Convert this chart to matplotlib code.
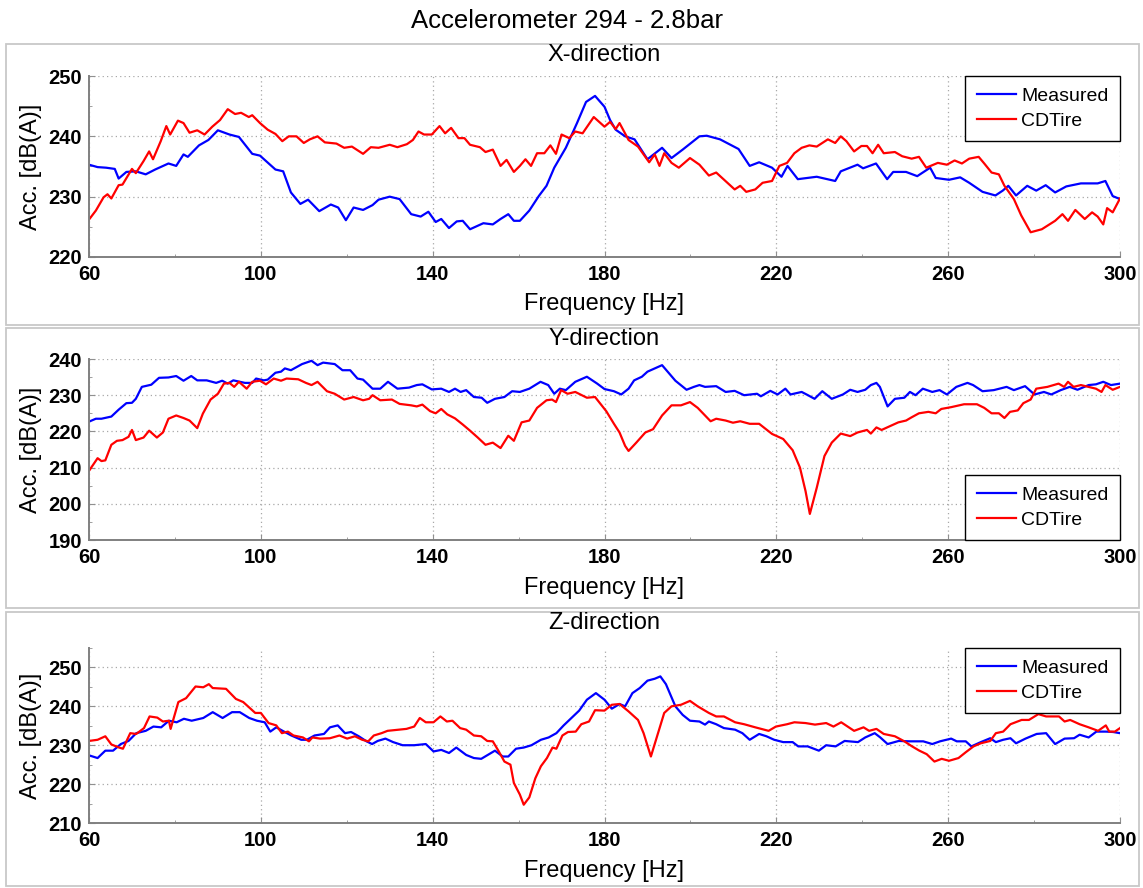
import numpy as np
import matplotlib
matplotlib.use("Agg")
import matplotlib.pyplot as plt
from matplotlib.patches import Rectangle
from matplotlib.ticker import MultipleLocator

plt.rcParams['font.family'] = ['Liberation Sans', 'DejaVu Sans']

# --- data: (frequency [Hz], level [dB(A)]) ---
x_measured = [
    (60, 235.3), (62, 234.9), (64, 234.8), (66, 234.6), (66.9, 233.0), (68.7, 234.1), (70.9, 234.2),
    (73.2, 233.7), (75.4, 234.5), (78.5, 235.5), (80.3, 235.1), (82, 237.0), (83, 236.6), (85.6, 238.5),
    (87.8, 239.4), (90, 241.0), (92.7, 240.3), (94.9, 239.9), (98, 237.1), (99.8, 236.8), (103.4, 234.5),
    (105.2, 234.2), (107, 230.7), (109.2, 228.8), (111, 229.5), (113.6, 227.6), (116.3, 228.7), (118, 228.2),
    (119.8, 226.1), (121.6, 228.2), (123.8, 227.8), (126, 228.6), (127.4, 229.5), (130, 230.0), (132.3, 229.6),
    (135, 227.1), (137.2, 226.7), (139, 227.5), (140.7, 225.8), (142, 226.3), (143.8, 224.8), (145.6, 225.9),
    (147, 226.0), (148.7, 224.6), (151.8, 225.6), (154, 225.4), (155.8, 226.3), (157.6, 227.1), (158.9, 226.0),
    (160.3, 226.0), (162.5, 227.7), (164.7, 230.1), (166.5, 231.8), (168.3, 234.8), (171, 238.1), (173.6, 242.2),
    (175.7, 245.7), (177.8, 246.7), (180, 244.9), (181.3, 242.7), (182.6, 241.1), (184.8, 240.0), (187, 239.5),
    (190, 236.2), (193.4, 238.1), (195.6, 236.4), (198.2, 237.8), (202.1, 240.0), (203.8, 240.1), (206.9, 239.5),
    (211.2, 237.9), (213.8, 235.1), (216, 235.7), (219, 234.8), (221.2, 233.3), (222.6, 235.1), (225, 232.9),
    (229.4, 233.3), (233.7, 232.6), (235, 234.2), (238.9, 235.3), (240.2, 234.7), (243.2, 235.5), (245.8, 232.9),
    (247.2, 234.1), (250.2, 234.1), (252.8, 233.4), (255.8, 234.8), (257.1, 233.1), (260.2, 232.8), (262.8, 233.2),
    (264.9, 232.3), (268, 230.8), (271, 230.2), (272.7, 231.0), (274, 231.8), (275.8, 230.2), (278.4, 231.8),
    (280.5, 231.0), (282.7, 231.9), (284.9, 230.7), (287.5, 231.7), (290.9, 232.2), (294.8, 232.2), (296.6, 232.6),
    (298.3, 230.1), (300, 229.6),
]
x_cdtire = [
    (60, 226.2), (61.6, 227.7), (63.4, 229.9), (64.3, 230.4), (65.2, 229.7), (66.9, 231.9), (67.8, 232.0),
    (70, 234.6), (70.9, 233.9), (72.7, 235.9), (74, 237.5), (74.9, 236.2), (76.7, 239.2), (78, 241.7),
    (78.9, 240.3), (80.7, 242.6), (82, 242.2), (83.4, 240.6), (85.2, 241.0), (86.9, 240.3), (88.7, 241.6),
    (90.5, 242.7), (92.3, 244.5), (94, 243.7), (95.4, 243.9), (97.2, 243.2), (98, 243.5), (99.8, 242.2),
    (101.6, 241.1), (103.4, 240.4), (105, 239.2), (106.5, 240.0), (108.3, 240.0), (110, 238.9), (111.4, 239.5),
    (113.2, 240.0), (114.9, 239.0), (117.6, 238.8), (119.4, 238.1), (121.2, 238.3), (123.8, 237.1), (125.6, 238.2),
    (127.4, 238.1), (130, 238.6), (131.8, 238.2), (134, 238.7), (135.4, 239.4), (136.7, 240.8), (138, 240.3),
    (139.8, 240.3), (141.6, 241.7), (142.9, 240.5), (144.3, 241.4), (146, 239.7), (147.4, 239.7), (148.7, 238.6),
    (151, 238.2), (152.3, 237.4), (154, 237.8), (155.8, 235.1), (157.2, 236.1), (158.9, 234.1), (160.3, 235.1),
    (161.6, 236.2), (162.9, 235.1), (164.3, 237.2), (166, 237.2), (167.4, 238.5), (168.7, 237.1), (170, 240.3),
    (171.8, 239.7), (173.2, 240.8), (174.9, 240.5), (177.5, 243.2), (180, 241.6), (181.3, 242.4), (182.6, 241.2),
    (183.5, 242.2), (185.6, 239.4), (187.8, 238.3), (190.4, 235.7), (191.7, 237.0), (192.8, 235.1), (193.9, 237.2),
    (195.6, 235.6), (197.3, 234.8), (199.9, 236.4), (202.1, 235.3), (204.3, 233.5), (206, 234.0), (207.7, 232.9),
    (210.3, 231.2), (211.6, 231.8), (213, 230.8), (215.1, 231.2), (216.8, 232.3), (219, 232.6), (220.7, 235.1),
    (222.5, 235.6), (224.2, 237.2), (225.9, 238.1), (227.7, 238.5), (229.4, 238.3), (232, 239.5), (233.7, 238.9),
    (235, 240.0), (236.3, 239.2), (238.1, 237.5), (239.8, 238.4), (241.1, 238.4), (242.4, 237.2), (243.7, 238.6),
    (245, 237.2), (247.6, 237.4), (249.3, 236.7), (251.5, 236.3), (253.2, 236.6), (254.9, 234.8), (257.6, 235.6),
    (259.7, 235.3), (261.5, 236.0), (263.2, 235.5), (264.9, 236.3), (267.1, 236.6), (268.4, 235.5), (270.1, 234.0),
    (271.8, 233.7), (273.1, 231.8), (275.3, 229.6), (277, 226.9), (279.2, 224.1), (281.8, 224.6), (284.9, 226.0),
    (286.6, 227.1), (287.9, 226.0), (289.6, 227.8), (291.8, 226.3), (293.5, 227.4), (294.8, 226.7), (296.1, 225.4),
    (297, 228.1), (298.3, 227.4), (300, 229.7),
]
y_measured = [
    (60, 222.7), (61.6, 223.5), (62.9, 223.5), (65.2, 224.1), (66.9, 226.0), (68.7, 227.8), (70, 227.9),
    (70.9, 229.0), (72.3, 232.3), (74.5, 232.9), (76.3, 234.8), (78.5, 234.9), (80.3, 235.3), (82, 234.0),
    (83.8, 235.3), (85.2, 234.1), (87.4, 234.1), (89.6, 233.4), (91, 234.0), (92.3, 233.2), (93.6, 234.1),
    (96.3, 233.4), (98, 233.4), (98.9, 234.6), (100.7, 234.1), (101.6, 234.3), (103.4, 236.2), (104.7, 236.5),
    (105.6, 237.4), (107, 236.9), (109.6, 238.6), (111.8, 239.5), (113.2, 238.3), (114.5, 239.0), (117.2, 238.6),
    (119, 236.9), (120.8, 236.9), (122.5, 234.6), (123.8, 234.3), (126, 231.8), (127.8, 231.8), (129.6, 233.7),
    (131.8, 231.8), (134.5, 232.1), (136.3, 232.8), (137.6, 233.0), (139.8, 231.6), (142, 231.8), (143.8, 230.9),
    (145.2, 231.8), (146.5, 230.9), (147.8, 231.4), (149.6, 229.5), (151.4, 229.3), (152.7, 227.9), (154.5, 229.0),
    (156.7, 229.5), (158.5, 231.1), (160.3, 230.9), (162.5, 231.8), (165.1, 233.7), (166.9, 232.8), (168.3, 230.4),
    (169.6, 231.8), (171, 231.4), (173.2, 233.7), (175.9, 235.1), (178.3, 233.2), (180, 231.7), (182.2, 231.1),
    (183.9, 230.2), (185.6, 231.8), (186.9, 234.1), (188.7, 235.1), (190, 236.5), (191.7, 237.4), (193.4, 238.3),
    (194.7, 236.5), (196.5, 234.0), (199.1, 231.5), (200.8, 232.3), (202.1, 232.8), (203.4, 232.3), (206, 232.5),
    (208.2, 230.9), (210.3, 231.2), (212.5, 230.0), (215.5, 230.4), (216.4, 229.7), (218.6, 231.2), (220.3, 230.2),
    (222.1, 231.8), (223.3, 230.2), (225.9, 230.9), (227.2, 230.1), (228.9, 229.0), (230.7, 231.1), (232.9, 229.0),
    (235.5, 230.2), (237.2, 231.5), (238.9, 230.9), (240.7, 231.5), (242, 232.8), (243.3, 233.4), (244.1, 232.3),
    (245.9, 226.9), (247.6, 229.0), (249.8, 229.3), (251.1, 230.9), (252.4, 230.0), (254.1, 231.8), (256.3, 230.9),
    (258, 231.4), (259.7, 230.2), (261.9, 232.3), (264.5, 233.4), (265.8, 232.8), (268, 231.1), (270.6, 231.4),
    (273.6, 232.3), (275.3, 231.4), (277.9, 232.5), (280.1, 230.2), (282.3, 230.9), (284, 230.2), (286.2, 231.4),
    (288.3, 232.3), (290.1, 231.5), (292.7, 232.8), (294.4, 233.0), (296.1, 233.7), (297.9, 232.8), (300, 233.2),
]
y_cdtire = [
    (60, 209.1), (62, 212.6), (62.9, 211.8), (63.8, 212.0), (65.2, 216.3), (66.5, 217.4), (67.8, 217.6),
    (69.2, 218.5), (70, 220.4), (70.9, 217.6), (72.7, 218.3), (74, 220.2), (75.8, 218.3), (77.2, 219.7),
    (78.5, 223.5), (80.3, 224.4), (82, 223.7), (83.4, 223.0), (85.2, 220.9), (86.5, 224.9), (88.3, 228.8),
    (90, 230.4), (91.4, 233.2), (92.7, 233.4), (93.8, 232.3), (94.9, 233.7), (96.7, 231.8), (98, 233.7),
    (99.8, 234.0), (101.2, 233.0), (103, 234.6), (104.7, 234.0), (106, 234.6), (108.7, 234.4), (110.5, 233.4),
    (111.8, 232.8), (113.2, 233.7), (115.4, 231.1), (117.2, 230.4), (119.4, 228.8), (121.6, 229.5), (123.8, 228.6),
    (125.2, 229.0), (126, 230.0), (127.8, 228.6), (130.5, 228.8), (132.3, 227.6), (135, 227.2), (136.3, 226.9),
    (137.6, 227.4), (139.4, 225.6), (140.7, 225.0), (142, 226.2), (143.4, 224.7), (145.2, 223.6), (147, 221.9),
    (148.7, 220.2), (150.5, 218.3), (152.3, 216.3), (154, 216.9), (155.8, 215.4), (157.6, 218.8), (158.9, 217.4),
    (160.7, 222.5), (162.5, 223.0), (164.3, 226.5), (166.5, 228.6), (167.8, 228.8), (168.7, 228.1), (169.9, 231.4),
    (171.4, 230.4), (173.2, 230.9), (175.9, 229.3), (177.8, 229.5), (180.4, 225.6), (182.2, 222.1), (183.5, 219.7),
    (184.8, 216.0), (185.6, 214.6), (187.4, 216.9), (189.5, 219.7), (191.3, 220.6), (193.4, 224.4), (195.6, 227.2),
    (197.8, 227.2), (199.9, 228.1), (201.7, 226.5), (204.7, 222.8), (206, 223.5), (208.2, 223.0), (209.9, 222.4),
    (211.6, 222.8), (213.8, 222.1), (216, 222.1), (219, 219.3), (221.6, 217.9), (223.8, 214.8), (225.5, 210.0),
    (226.8, 203.5), (227.8, 197.2), (229.4, 204.4), (231.2, 213.2), (232.9, 216.9), (235, 219.4), (237.2, 218.7),
    (238.9, 219.7), (241.1, 220.4), (242, 219.4), (243.3, 221.1), (244.5, 220.4), (246.7, 221.6), (248.4, 222.5),
    (250.2, 223.0), (251.5, 223.9), (253.2, 225.0), (255.4, 225.4), (257.1, 225.0), (258.4, 226.2), (260.7, 226.7),
    (263.7, 227.5), (266.7, 227.5), (268.4, 226.5), (270.1, 225.0), (271.8, 225.0), (273.1, 223.7), (274.4, 225.4),
    (276.2, 225.8), (277.5, 227.8), (279.2, 228.8), (280.5, 231.8), (283.1, 232.3), (285.7, 233.2), (287, 232.3),
    (287.9, 233.7), (289.2, 232.3), (290.9, 232.8), (292.7, 232.3), (294.4, 231.8), (295.7, 230.9), (296.6, 232.8),
    (298.3, 231.5), (300, 232.3),
]
z_measured = [
    (60, 227.4), (62, 226.7), (63.8, 228.6), (65.6, 228.6), (67.4, 230.3), (69.2, 231.1), (71, 233.1),
    (73.2, 233.7), (75, 234.8), (76.8, 234.6), (78.6, 236.3), (80.4, 235.9), (82.1, 236.8), (83.9, 236.3),
    (86.6, 237.0), (88.8, 238.5), (91.1, 237.0), (93.3, 238.5), (95.1, 238.5), (97.3, 237.0), (99.1, 236.3),
    (100.9, 235.9), (102.2, 233.5), (103.6, 234.6), (105.4, 233.5), (107.1, 232.5), (109.4, 231.4), (110.7, 231.4),
    (112.5, 232.5), (114.7, 232.9), (116.1, 234.6), (117.9, 235.1), (119.6, 233.1), (121, 233.4), (122.8, 232.3),
    (124.6, 231.0), (125.9, 230.3), (127.2, 231.1), (129, 231.7), (130.8, 230.8), (133, 230.0), (135.7, 230.0),
    (138.4, 230.3), (140.2, 228.4), (142, 228.8), (143.8, 228.0), (145.5, 229.4), (147.8, 227.5), (149.6, 226.7),
    (151.3, 226.5), (153.1, 227.7), (154.5, 228.6), (156.3, 227.1), (157.6, 227.1), (159.4, 229.1), (161.2, 229.4),
    (163, 230.0), (165.2, 231.4), (167, 232.0), (168.8, 233.1), (170.5, 235.1), (172.3, 237.0), (174.1, 238.9),
    (175.9, 241.7), (178, 243.4), (180, 241.7), (181.7, 239.4), (183.5, 240.6), (184.8, 240.0), (186.5, 243.4),
    (188.2, 244.7), (190, 246.6), (191.7, 247.1), (193, 247.7), (194.3, 245.7), (196.5, 240.0), (198.2, 237.8),
    (199.9, 236.3), (202.1, 236.1), (203.4, 235.3), (204.3, 236.1), (206, 235.4), (207.8, 234.4), (210.4, 234.0),
    (212.1, 233.1), (213.8, 231.4), (216, 232.9), (217.7, 232.3), (219.5, 231.4), (221.6, 230.8), (223.8, 230.8),
    (225.1, 229.7), (227.3, 229.7), (229.9, 228.6), (231.6, 230.0), (233.8, 229.7), (235.9, 231.1), (239, 230.8),
    (240.7, 232.0), (242.9, 233.1), (244.2, 232.0), (245.9, 230.3), (248.5, 231.1), (251.1, 231.0), (254.2, 231.0),
    (256.3, 230.3), (258.1, 231.0), (260.7, 231.7), (262, 231.0), (264.1, 231.0), (265.4, 229.7), (267.6, 230.8),
    (269.8, 231.8), (271.1, 230.8), (272.8, 231.4), (274.5, 231.8), (275.8, 230.5), (278, 231.7), (280.6, 232.9),
    (282.8, 233.1), (284.9, 230.3), (287.1, 231.7), (289.3, 231.8), (290.6, 232.7), (292.7, 232.0), (294.5, 233.5),
    (296.7, 233.5), (298.4, 233.4), (300, 233.1),
]
z_cdtire = [
    (60, 231.1), (62, 231.4), (63.8, 232.3), (65.2, 230.2), (67, 229.4), (67.9, 229.1), (69.6, 233.1),
    (71, 232.9), (72.8, 234.4), (74.1, 237.4), (75.9, 237.1), (77.2, 236.1), (78.6, 236.3), (79, 234.2),
    (80.8, 241.1), (82.6, 242.1), (84.8, 245.1), (86.6, 244.9), (87.9, 245.7), (88.8, 244.7), (91.9, 244.5),
    (94.2, 241.9), (95.9, 241.1), (97.3, 239.7), (98.7, 238.3), (100, 238.3), (101.8, 235.7), (103.6, 235.1),
    (104.9, 233.1), (106.3, 233.5), (107.6, 232.5), (109.8, 232.0), (111.2, 231.0), (112, 232.0), (113.8, 231.7),
    (116.1, 231.8), (118.3, 232.5), (120.1, 231.7), (121.9, 232.3), (123.6, 231.4), (125, 231.0), (126.3, 232.5),
    (128.1, 233.1), (129.5, 233.7), (132.1, 234.0), (133.9, 234.2), (135.7, 234.8), (137, 237.0), (138.4, 235.9),
    (140.2, 235.9), (141.8, 237.4), (143.3, 236.1), (144.6, 236.3), (146.4, 234.4), (147.8, 234.0), (149.6, 232.5),
    (151.3, 232.3), (152.7, 231.1), (154, 231.0), (155.4, 228.4), (156.7, 225.8), (158.1, 225.0), (158.9, 220.3),
    (160.3, 217.3), (161.2, 214.7), (162.5, 216.6), (163.9, 221.5), (165.2, 224.6), (166.6, 226.7), (167.9, 229.4),
    (168.8, 229.1), (170.2, 232.5), (171.5, 233.4), (173.3, 233.5), (174.6, 235.4), (176.4, 236.1), (177.8, 239.0),
    (180, 238.9), (181.7, 240.4), (183.5, 240.6), (185.6, 238.7), (187.8, 236.5), (189.1, 233.1), (190.8, 227.1),
    (192.1, 231.8), (193.9, 238.3), (195.6, 240.0), (197.8, 240.4), (199.9, 241.4), (201.7, 240.0), (204.3, 238.3),
    (206, 237.4), (207.8, 237.4), (210.4, 235.9), (212.5, 235.4), (215.1, 234.6), (218.2, 233.7), (219.9, 234.8),
    (222.5, 235.4), (224.2, 235.9), (226.8, 235.7), (229, 235.3), (231.6, 235.7), (233.3, 234.8), (235.1, 235.9),
    (238.1, 233.7), (240.3, 234.6), (241.6, 233.7), (243.3, 234.2), (245, 232.9), (247.6, 232.3), (249.8, 231.0),
    (251.6, 229.7), (253.3, 228.6), (255, 227.7), (256.8, 225.8), (258.5, 226.5), (260.2, 226.0), (262.4, 226.7),
    (264.1, 228.2), (265.9, 229.7), (267.6, 230.5), (269.8, 231.1), (271.1, 233.1), (272.8, 233.5), (274.5, 235.4),
    (277.1, 236.5), (278.8, 236.5), (281, 238.0), (282.8, 237.4), (285.8, 237.4), (287.1, 236.1), (288.4, 236.5),
    (290.6, 235.4), (292.7, 234.6), (294.9, 233.7), (296.7, 235.1), (297.5, 233.5), (298.8, 233.5), (300, 234.4),
]

directions = ["X-direction", "Y-direction", "Z-direction"]
series = [(x_measured, x_cdtire), (y_measured, y_cdtire), (z_measured, z_cdtire)]
ylims = [(220, 250), (190, 240), (210, 255)]
yticks = [[220, 230, 240, 250], [190, 200, 210, 220, 230, 240], [210, 220, 230, 240, 250]]
xticks = [60, 100, 140, 180, 220, 260, 300]

# layout in pixels of the 1143x888 reference
W, H = 1143, 888
AX_L, AX_R = 89, 1120
axes_px = [(76, 257), (359, 540), (648, 823)]      # top, bottom
panels_px = [(44, 325), (328, 608), (612, 886)]
title_y = [55, 339, 623]
xlabel_y = [304, 588, 871]
legend_loc = ["upper right", "lower right", "upper right"]


def fx(px):
    return px / W


def fy(py):
    return 1 - py / H


fig = plt.figure(figsize=(W / 100, H / 100), dpi=100)

fig.text(fx(567), fy(21), "Accelerometer 294 - 2.8bar", ha="center", va="center", fontsize=18.5)

for i in range(3):
    top, bot = panels_px[i]
    fig.add_artist(Rectangle((fx(6), fy(bot)), fx(1139) - fx(6), (bot - top) / H,
                             transform=fig.transFigure, fill=False,
                             edgecolor="#c8c8c8", lw=1.3))

    a_top, a_bot = axes_px[i]
    ax = fig.add_axes([fx(AX_L), fy(a_bot), fx(AX_R) - fx(AX_L), (a_bot - a_top) / H])

    meas, cd = series[i]
    f, v = np.array(meas).T
    ax.plot(f, v, color="#0000ff", lw=1.6, label="Measured")
    f, v = np.array(cd).T
    ax.plot(f, v, color="#ff0000", lw=1.6, label="CDTire")

    ax.set_xlim(60, 300)
    ax.set_ylim(*ylims[i])
    ax.set_xticks(xticks)
    ax.set_yticks(yticks[i])
    ax.xaxis.set_minor_locator(MultipleLocator(20))
    ax.yaxis.set_minor_locator(MultipleLocator(5))
    ax.grid(True, which="major", linestyle=(0, (1, 2.5)), color="#a8a8a8", lw=0.9)

    for s in ("top", "right"):
        ax.spines[s].set_visible(False)
    for s in ("left", "bottom"):
        ax.spines[s].set_color("#808080")
        ax.spines[s].set_linewidth(1.4)
    ax.tick_params(which="both", direction="in", color="#909090", labelsize=14.5)
    ax.tick_params(axis="x", pad=6)
    ax.tick_params(axis="y", pad=5)
    ax.tick_params(which="major", length=4)
    ax.tick_params(which="minor", length=2.5)
    plt.setp(ax.get_xticklabels() + ax.get_yticklabels(), fontweight="bold")

    leg = ax.legend(loc=legend_loc[i], fontsize=14, frameon=True, fancybox=False,
                    edgecolor="black", framealpha=1, borderaxespad=0,
                    handlelength=2.0, handletextpad=0.3, labelspacing=0.37, borderpad=0.58)
    leg.get_frame().set_linewidth(1.0)

    fig.text(fx(604.5), fy(title_y[i]), directions[i], ha="center", va="center", fontsize=17)
    fig.text(fx(604.5), fy(xlabel_y[i]), "Frequency [Hz]", ha="center", va="center", fontsize=17)
    fig.text(fx(31), fy((a_top + a_bot) / 2), "Acc. [dB(A)]", ha="center", va="center",
             rotation=90, fontsize=17)

fig.savefig("out.png", dpi=100)
